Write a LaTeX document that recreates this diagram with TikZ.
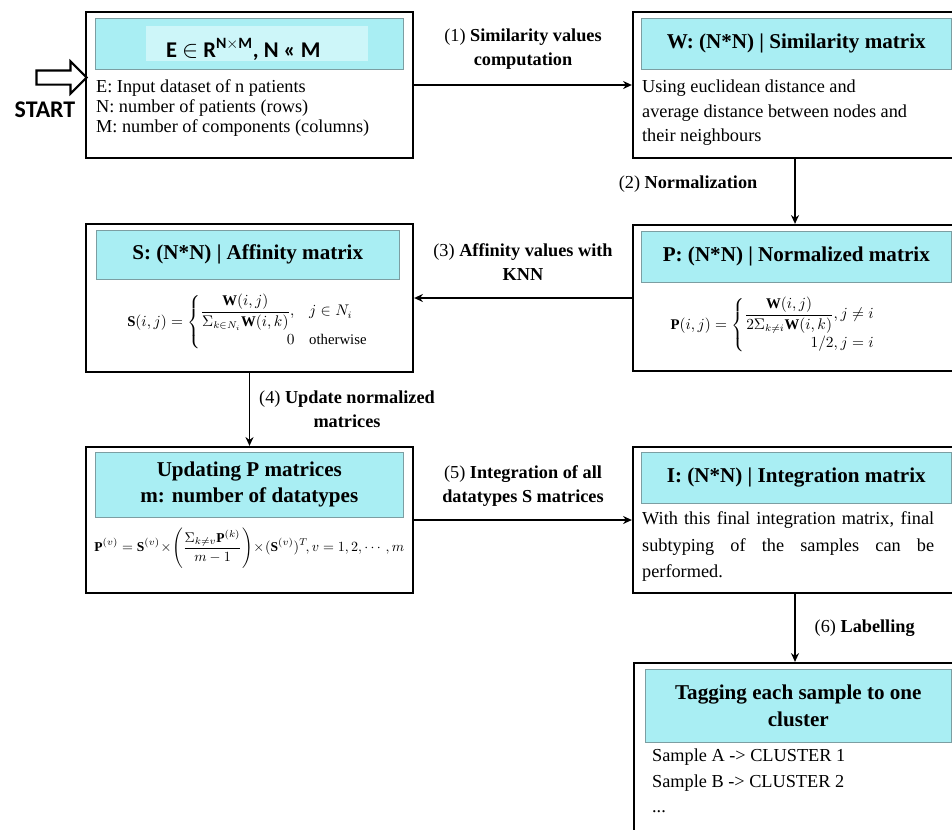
\documentclass[tikz,border=0pt]{standalone}
\usepackage{amsmath,amssymb}
\usepackage{fontspec}
\setmainfont{Liberation Serif}
\newfontfamily\calib{Carlito}
\usetikzlibrary{arrows.meta,positioning,shapes.arrows}
\definecolor{aqua}{HTML}{A9EEF3}
\definecolor{paleaqua}{HTML}{CDF6F9}
\definecolor{rim}{HTML}{7C9EA2}

\begin{document}
\begin{tikzpicture}[x=0.25mm,y=-0.25mm,node distance=2mm,
  stage/.style={draw,line width=1.6pt,inner sep=0pt},
  head/.style={fill=aqua,draw=rim,line width=0.6pt,inner sep=0pt,align=center,
    font=\bfseries\fontsize{15}{18.5}\selectfont},
  body/.style={inner sep=0pt,align=left,font=\fontsize{13}{17.5}\selectfont},
  form/.style={inner sep=0pt,font=\fontsize{10.5}{12}\selectfont},
  lab/.style={align=center,font=\fontsize{13}{17}\selectfont},
  flow/.style={-{Stealth[length=2.2mm,width=2mm]},line width=1.4pt}]
\useasboundingbox (0,0) rectangle (952,829);
\clip (0,0) rectangle (952,829);

% stages
\node[stage,minimum width=81.75mm,minimum height=36.5mm] (bE) at (249.5,85) {};
\node[stage,minimum width=81mm,minimum height=36.5mm] (bW) at (795,85) {};
\node[stage,minimum width=81.75mm,minimum height=37mm] (bS) at (249.5,298) {};
\node[stage,minimum width=81mm,minimum height=36.5mm] (bP) at (795,298) {};
\node[stage,minimum width=81.75mm,minimum height=36.5mm] (bU) at (249.5,520) {};
\node[stage,minimum width=81mm,minimum height=36.5mm] (bI) at (795,520) {};
\node[stage,minimum width=80.5mm,minimum height=46.75mm] (bT) at (795,756.5) {};

% headers
\node[head,minimum width=77mm,minimum height=12.75mm,anchor=north west] (hE)
  at ([xshift=2.5mm,yshift=-1.75mm]bE.north west) {};
\node[fill=paleaqua,inner sep=0pt,minimum width=55.5mm,minimum height=8.75mm] (nE)
  at ([xshift=2mm]hE.center) {};
\node[inner sep=0pt,font=\calib\bfseries\fontsize{16}{16}\selectfont] (eqE)
  at ([xshift=-3.5mm,yshift=-1.5mm]nE.center) {E $\in$ R\textsuperscript{N$\times$M}, N « M};
\node[head,minimum width=77.5mm,minimum height=12.75mm,anchor=north west] (hW)
  at ([xshift=2.25mm,yshift=-1.75mm]bW.north west) {W: (N*N) | Similarity matrix};
\node[head,minimum width=75.75mm,minimum height=12.25mm,anchor=north west] (hS)
  at ([xshift=2.75mm,yshift=-1.75mm]bS.north west) {S: (N*N) | Affinity matrix};
\node[head,minimum width=77.5mm,minimum height=12.75mm,anchor=north west] (hP)
  at ([xshift=2.25mm,yshift=-1.75mm]bP.north west) {P: (N*N) | Normalized matrix};
\node[head,minimum width=77mm,minimum height=16.25mm,anchor=north west] (hU)
  at ([xshift=2.5mm,yshift=-1.5mm]bU.north west) {Updating P matrices\\m: number of datatypes};
\node[head,minimum width=77.5mm,minimum height=12.75mm,anchor=north west] (hI)
  at ([xshift=2.25mm,yshift=-1.5mm]bI.north west) {I: (N*N) | Integration matrix};
\node[head,minimum width=76.5mm,minimum height=18.25mm,anchor=north west] (hT)
  at ([xshift=3mm,yshift=-1.75mm]bT.north west) {Tagging each sample to one\\cluster};

% contents
\node[body,font=\fontsize{13}{14.2}\selectfont,below right=2.5mm and 0.25mm of hE.south west] (tE)
  {E: Input dataset of n patients\\N: number of patients (rows)\\M: number of components (columns)};
\node[body,below right=2.5mm and 0.25mm of hW.south west] (tW)
  {Using euclidean distance and\\average distance between nodes and\\their neighbours};
\node[form,below=3.5mm of hS.south] (fS)
  {$\displaystyle \mathbf{S}(i,j)=\begin{cases}\dfrac{\mathbf{W}(i,j)}{\Sigma_{k\in N_i}\mathbf{W}(i,k)}, & j\in N_i\\[6pt]
  \hfill 0 & \text{otherwise}\end{cases}$};
\node[form,below=3.5mm of hP.south,xshift=-4mm] (fP)
  {$\displaystyle \mathbf{P}(i,j)=\begin{cases}\dfrac{\mathbf{W}(i,j)}{2\Sigma_{k\neq i}\mathbf{W}(i,k)},j\neq i\\[6pt]
  \hfill 1/2, j=i\end{cases}$};
\node[form,font=\fontsize{9.6}{12}\selectfont,below=2.5mm of hU.south] (fU)
  {$\displaystyle \mathbf{P}^{(v)}=\mathbf{S}^{(v)}\!\times\!\left(\frac{\Sigma_{k\neq v}\mathbf{P}^{(k)}}{m-1}\right)\!\times\!(\mathbf{S}^{(v)})^T\!,v=1,2,\cdots,m$};
\node[body,font=\fontsize{13}{18.8}\selectfont,below right=2mm and 0.25mm of hI.south west] (tI)
  {\makebox[73mm][s]{With this final integration matrix, final}\\
   \makebox[73mm][s]{subtyping of the samples can be}\\performed.};
\node[body,font=\fontsize{13}{18}\selectfont,below right=1.5mm and 1.75mm of hT.south west] (tT)
  {Sample A -> CLUSTER 1\\Sample B -> CLUSTER 2\\...};

% start
\node[single arrow,draw,line width=1.5pt,inner sep=1.5mm,minimum height=12.5mm,
  single arrow head extend=2.25mm] (go) at (58,77.5) {};
\node[font=\calib\bfseries\fontsize{17}{17}\selectfont] (start) at (45,110) {START};

% steps
\draw[flow] (bE) -- node[lab,above=2.5mm] {(1) \textbf{Similarity values}\\\textbf{computation}} (bW);
\draw[flow] (bW) -- node[lab,pos=0.38,left=8mm] {(2) \textbf{Normalization}} (bP);
\draw[flow] (bP) -- node[lab,above=3mm] {(3) \textbf{Affinity values with}\\\textbf{KNN}} (bS);
\draw[flow] (bS) -- node[lab,right=1mm] {(4) \textbf{Update normalized}\\\textbf{matrices}} (bU);
\draw[flow] (bU) -- node[lab,above=2mm] {(5) \textbf{Integration of all}\\\textbf{datatypes S matrices}} (bI);
\draw[flow] (bI) -- node[lab,right=3.5mm] {(6) \textbf{Labelling}} (bT);
\end{tikzpicture}
\end{document}
